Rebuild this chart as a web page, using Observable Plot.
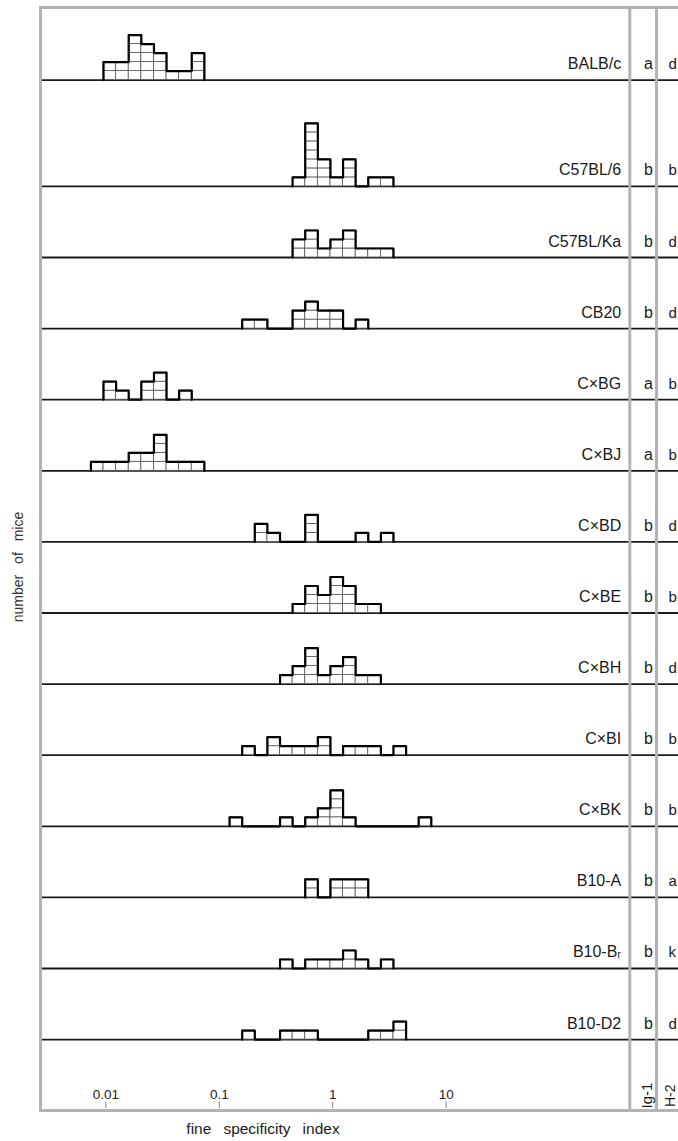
<!DOCTYPE html>
<html><head><meta charset="utf-8">
<script src="https://cdn.jsdelivr.net/npm/d3@7"></script>
<script src="https://cdn.jsdelivr.net/npm/@observablehq/plot@0.6"></script>
<style>
html,body{margin:0;padding:0;background:#fff;overflow:hidden}
#wrap{width:678px;height:1141px;overflow:hidden;position:relative;background:#fff}
#wrap svg{max-width:none !important;display:block}
</style></head><body><div id="wrap"></div>
<script>
// Strains, allele columns
const strains = ["BALB/c","C57BL/6","C57BL/Ka","CB20","C×BG","C×BJ","C×BD","C×BE","C×BH","C×BI","C×BK","B10-A","B10-Bᵣ","B10-D2"];
const ig1 = ["a","b","b","b","a","a","b","b","b","b","b","b","b","b"];
const h2  = ["d","b","d","d","b","b","d","b","d","b","b","a","k","d"];
// Histogram: first bin index (on a 1/9-decade grid) and number of mice per bin
const firstBin = [0,15,15,11,0,-1,12,15,14,11,10,16,14,11];
const counts = [
  [2,2,5,4,3,1,1,3],
  [1,7,3,1,3,0,1,1],
  [2,3,1,2,3,1,1,1],
  [1,1,0,0,2,3,2,2,0,1],
  [2,1,0,2,3,0,1],
  [1,1,1,2,2,4,1,1,1],
  [2,1,0,0,3,0,0,0,1,0,1],
  [1,3,2,4,3,1,1],
  [1,2,4,1,2,3,1,1],
  [1,0,2,1,1,1,2,0,1,1,1,0,1],
  [1,0,0,0,1,0,1,2,4,1,0,0,0,0,0,1],
  [2,0,2,2,2],
  [1,0,1,1,1,2,1,0,1],
  [1,0,0,1,1,1,0,0,0,0,1,1,2]
];
const tickValues = [0.01, 0.1, 1, 10];
const tickLabels = ["0.01", "0.1", "1", "10"];

// bin grid
const binOrigin = 0.00955, binsPerDecade = 9;
const edge = k => binOrigin * Math.pow(10, k / binsPerDecade);

// vertical layout in "mouse" units (one square = 1)
const yTop = 122.56;
const bases = [];
strains.forEach((s, i) => {
  if (i === 0) bases.push(114.5);
  else if (i === 1) bases.push(bases[0] - 11.82);
  else bases.push(bases[i - 1] - 7.9);
});

const rows = strains.map((s, i) => ({strain: s, ig1: ig1[i], h2: h2[i], base: bases[i]}));
const cells = [], outline = [];
strains.forEach((s, i) => {
  const c = counts[i], f = firstBin[i], b = bases[i];
  outline.push({strain: s, x: edge(f), y: b});
  c.forEach((n, j) => {
    outline.push({strain: s, x: edge(f + j), y: b + n});
    for (let k = 0; k < n; k++) cells.push({strain: s, x1: edge(f + j), x2: edge(f + j + 1), y1: b + k, y2: b + k + 1});
  });
  outline.push({strain: s, x: edge(f + c.length), y: b});
});

const W = 688, H = 1141;
const font = "Liberation Sans, Arial, Helvetica, sans-serif";
const gray = "#b3b3b3";

const chart = Plot.plot({
  width: W, height: H,
  marginLeft: 40, marginRight: 0, marginTop: 7, marginBottom: 31,
  style: {fontFamily: font, background: "#fff", color: "#1a1a1a", maxWidth: "none"},
  x: {type: "log", domain: [0.01, 10], range: [105.3, 445.7], axis: null},
  y: {domain: [0, yTop], axis: null},
  marks: [
    Plot.ruleY(rows, {y: "base", stroke: "#1a1a1a", strokeWidth: 1.8}),
    Plot.rect(cells, {x1: "x1", x2: "x2", y1: "y1", y2: "y2", fill: "white", stroke: "#555", strokeWidth: 0.8}),
    Plot.line(outline, {x: "x", y: "y", z: "strain", curve: "step-after", stroke: "#000", strokeWidth: 2.2}),
    Plot.text(rows, {y: "base", text: "strain", frameAnchor: "right", dx: 620.7 - W, dy: -11, textAnchor: "end", lineAnchor: "bottom", fontSize: 16, fill: "#1a1a1a"}),
    Plot.text(rows, {y: "base", text: "ig1", frameAnchor: "right", dx: 648 - W, dy: -11, textAnchor: "middle", lineAnchor: "bottom", fontSize: 16, fill: "#1a1a1a"}),
    Plot.text(rows, {y: "base", text: "h2", frameAnchor: "right", dx: 668 - W, dy: -11, textAnchor: "start", lineAnchor: "bottom", fontSize: 15, fill: "#1a1a1a"}),
    Plot.frame({stroke: gray, strokeWidth: 3}),
    Plot.frame({stroke: gray, strokeWidth: 3, insetLeft: 629.3 - 40, insetRight: W - 656}),
    Plot.ruleX(tickValues, {x: d => d, y1: 0.2, y2: 0.95, stroke: "#888", strokeWidth: 1}),
    Plot.text(tickValues, {x: d => d, text: (d, i) => tickLabels[i], frameAnchor: "bottom", dy: -12, lineAnchor: "bottom", fontSize: 13.5, fill: "#222"}),
    Plot.text(["Ig-1"], {frameAnchor: "bottom-right", dx: 646.7 - W, dy: -2, rotate: -90, textAnchor: "start", lineAnchor: "middle", fontSize: 15, fill: "#1a1a1a"}),
    Plot.text(["H-2"], {frameAnchor: "bottom-right", dx: 670.5 - W, dy: -3.5, rotate: -90, textAnchor: "start", lineAnchor: "middle", fontSize: 14, fill: "#1a1a1a"}),
    Plot.text(["number \u2002of \u2002mice"], {frameAnchor: "left", dx: -22, dy: 8, rotate: -90, textAnchor: "middle", lineAnchor: "middle", fontSize: 14, fill: "#333"}),
    Plot.text(["fine \u2002specificity \u2002index"], {frameAnchor: "bottom-left", dx: 262.5 - 40, dy: 23, textAnchor: "middle", lineAnchor: "bottom", fontSize: 15.5, fill: "#1a1a1a"})
  ]
});
chart.style.maxWidth = "none";
document.getElementById("wrap").appendChild(chart);
</script></body></html>
